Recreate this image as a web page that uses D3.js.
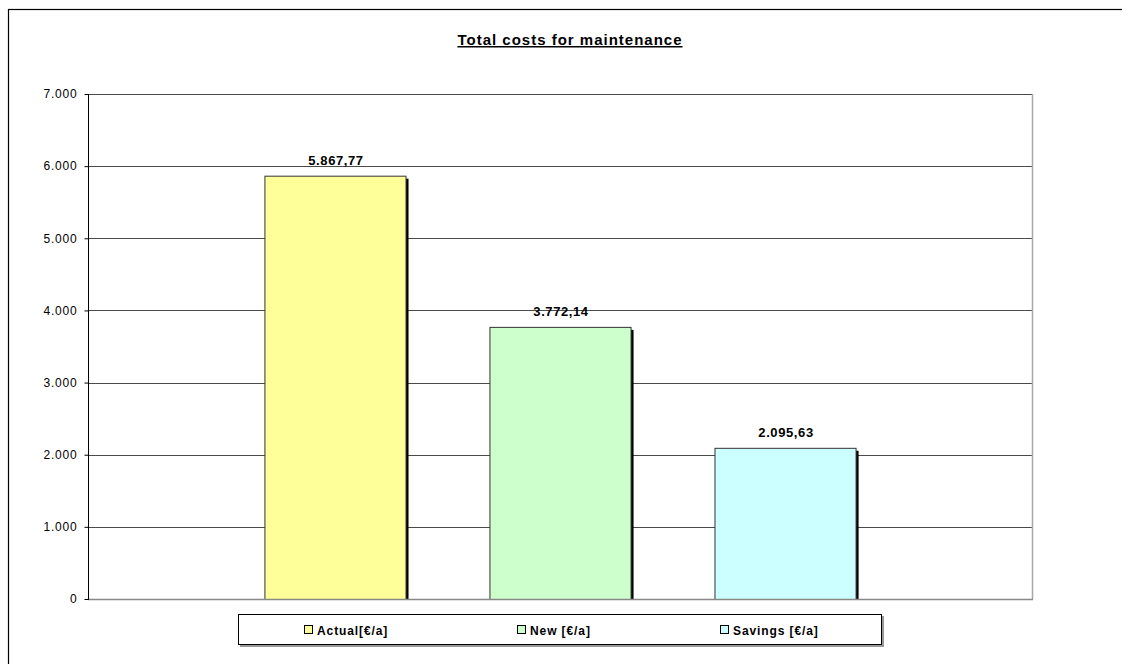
<!DOCTYPE html>
<html><head><meta charset="utf-8">
<script src="https://cdn.jsdelivr.net/npm/d3@7"></script>
<style>
html,body{margin:0;padding:0;background:#fff;}
svg{display:block;font-family:"Liberation Sans",Arial,sans-serif;}
</style></head>
<body>
<svg id="chart" width="1122" height="664"></svg>
<script>
const title = "Total costs for maintenance";
const series = ["Actual[€/a]", "New [€/a]", "Savings [€/a]"];
const values = [5867.77, 3772.14, 2095.63];
const valueLabels = ["5.867,77", "3.772,14", "2.095,63"];
const colors = ["#FFFF99", "#CCFFCC", "#CCFFFF"];
const yTicks = [0, 1000, 2000, 3000, 4000, 5000, 6000, 7000];
const yTickLabels = ["0", "1.000", "2.000", "3.000", "4.000", "5.000", "6.000", "7.000"];

const svg = d3.select("#chart");
const L = 88, R = 1032, T = 94, B = 599;

// outer frame (extends past right/bottom edge)
svg.append("rect").attr("x", 8.5).attr("y", 9.5).attr("width", 1300).attr("height", 800)
  .attr("fill", "none").attr("stroke", "#000").attr("stroke-width", 1.2);

const y = d3.scaleLinear().domain([0, 7000]).range([B, T]);
const x = d3.scaleBand().domain(series).range([L, R]).paddingInner(0.373).paddingOuter(0.784);

// gridlines
svg.append("g").selectAll("line").data(yTicks.filter(d => d > 0)).join("line")
  .attr("x1", L).attr("x2", R).attr("y1", d => Math.round(y(d)) + 0.5).attr("y2", d => Math.round(y(d)) + 0.5)
  .attr("stroke", "#4a4a4a").attr("stroke-width", 1);

// plot right border
svg.append("line").attr("x1", R + 0.5).attr("x2", R + 0.5).attr("y1", T).attr("y2", B)
  .attr("stroke", "#a8a8a8").attr("stroke-width", 1.5);

// bars with shadows
const bars = svg.append("g");
bars.selectAll("rect.sh").data(values).join("rect").attr("class", "sh")
  .attr("x", (d, i) => x(series[i]) + 3).attr("y", d => y(d) + 3)
  .attr("width", x.bandwidth()).attr("height", d => B - y(d) - 3)
  .attr("fill", "#000");
bars.selectAll("rect.bar").data(values).join("rect").attr("class", "bar")
  .attr("x", (d, i) => x(series[i]) + 0.5).attr("y", d => y(d) + 0.5)
  .attr("width", x.bandwidth()).attr("height", d => B - y(d))
  .attr("fill", (d, i) => colors[i]).attr("stroke", "#333").attr("stroke-width", 1);

// bottom axis line over bars
svg.append("line").attr("x1", L).attr("x2", R + 1).attr("y1", B + 0.5).attr("y2", B + 0.5)
  .attr("stroke", "#888").attr("stroke-width", 1.5);

// y axis
const yAxis = d3.axisLeft(y).tickValues(yTicks).tickSize(4).tickPadding(7)
  .tickFormat((d, i) => yTickLabels[i]);
const ga = svg.append("g").attr("transform", `translate(${L + 0.5},0)`).call(yAxis);
ga.select(".domain").attr("stroke", "#000").attr("d", `M0,${T}V${B + 1}`);
ga.selectAll(".tick line").attr("stroke", "#000");
ga.selectAll(".tick text").attr("font-size", 12).attr("fill", "#000")
  .attr("font-family", "'Liberation Sans', Arial, sans-serif").attr("letter-spacing", 0.8);

// value labels
svg.append("g").selectAll("text").data(values).join("text")
  .attr("x", (d, i) => x(series[i]) + x.bandwidth() / 2 + 1)
  .attr("y", d => y(d) - 11)
  .attr("text-anchor", "middle").attr("font-size", 13).attr("font-weight", "bold")
  .attr("letter-spacing", 0.6)
  .attr("fill", "#000").text((d, i) => valueLabels[i]);

// title
svg.append("text").attr("x", 570).attr("y", 45).attr("text-anchor", "middle")
  .attr("font-size", 15).attr("font-weight", "bold").attr("text-decoration", "underline")
  .attr("letter-spacing", 1)
  .text(title);

// legend
const lg = svg.append("g");
lg.append("rect").attr("x", 240).attr("y", 616).attr("width", 644).attr("height", 31).attr("fill", "#999");
lg.append("rect").attr("x", 238.5).attr("y", 614.5).attr("width", 643).attr("height", 30)
  .attr("fill", "#fff").attr("stroke", "#000").attr("stroke-width", 1);
const legendX = [304, 517, 720];
const items = lg.selectAll("g.item").data(series).join("g").attr("class", "item")
  .attr("transform", (d, i) => `translate(${legendX[i]},630)`);
items.append("rect").attr("x", 0.5).attr("y", -4.5).attr("width", 8).attr("height", 8)
  .attr("fill", (d, i) => colors[i]).attr("stroke", "#000").attr("stroke-width", 1);
items.append("text").attr("x", 13).attr("y", 4.5).attr("font-size", 12).attr("font-weight", "bold")
  .attr("letter-spacing", 0.9)
  .attr("fill", "#000").text(d => d);
</script>
</body></html>
